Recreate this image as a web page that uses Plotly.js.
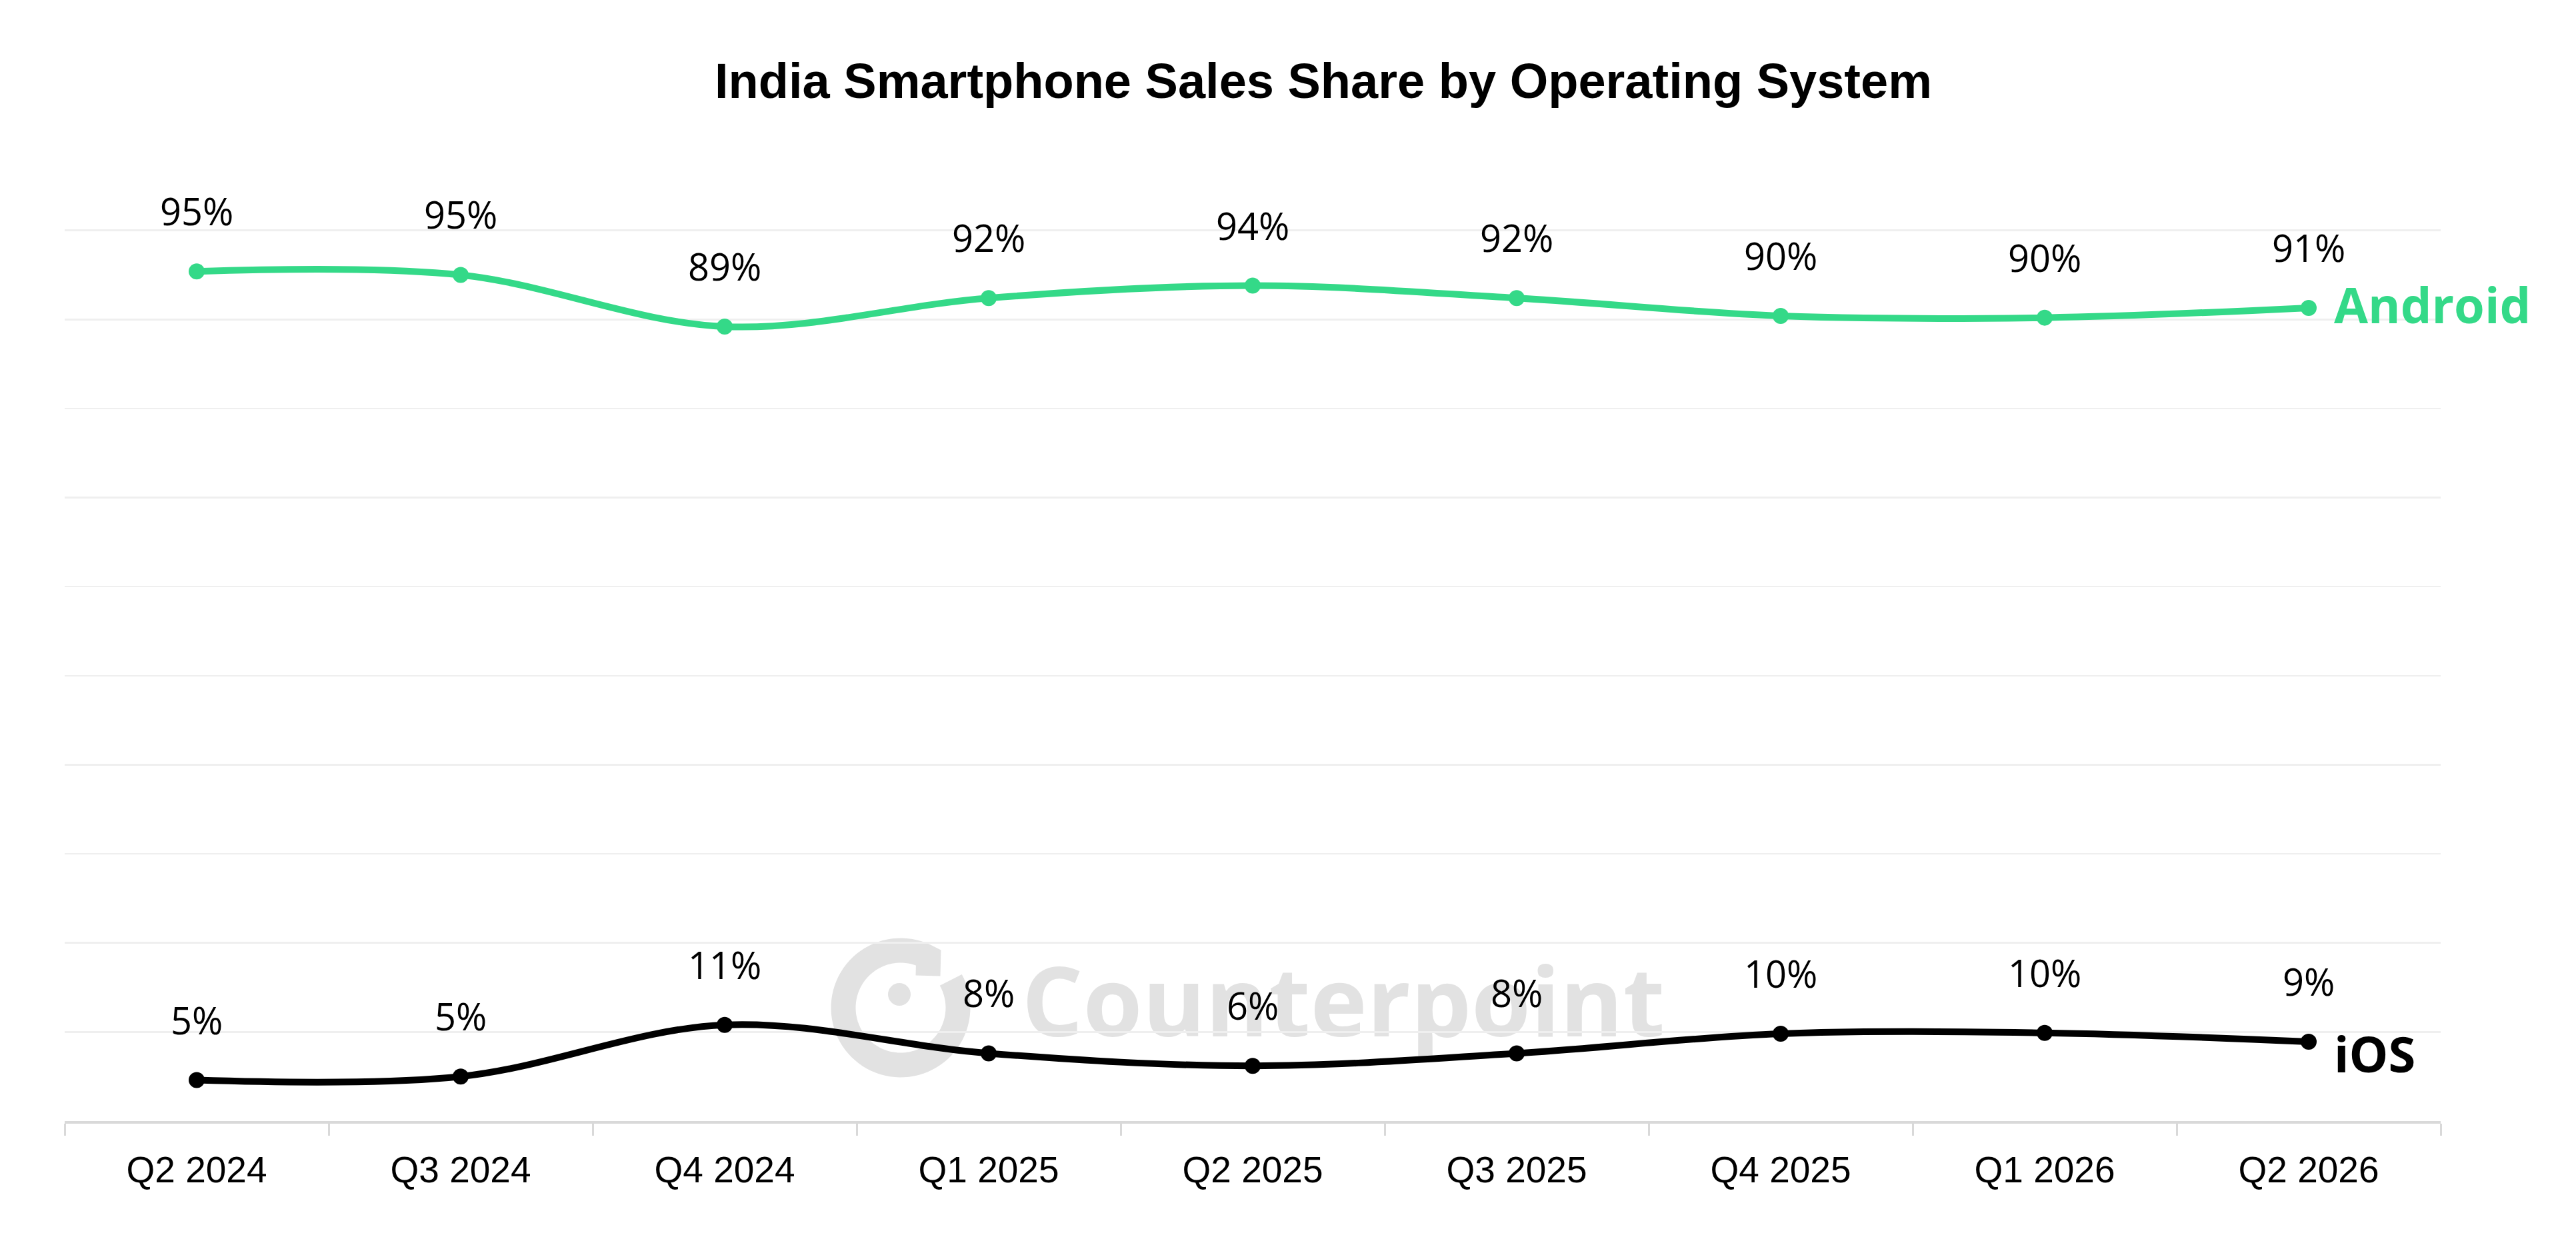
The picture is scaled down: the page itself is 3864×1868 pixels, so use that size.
<!DOCTYPE html>
<html>
<head>
<meta charset="utf-8">
<script src="https://cdn.plot.ly/plotly-3.0.1.min.js"></script>
<style>
  html, body { margin: 0; padding: 0; background: #fff; }
  #chart { width: 3864px; height: 1868px; }
</style>
</head>
<body>
<div id="chart"></div>
<script>
// quarters on the x axis
const quarters = ['Q2 2024', 'Q3 2024', 'Q4 2024', 'Q1 2025', 'Q2 2025',
                  'Q3 2025', 'Q4 2025', 'Q1 2026', 'Q2 2026'];

// share of sales, % (labels are rounded)
const androidShare = [95.4, 95.0, 89.2, 92.4, 93.8, 92.4, 90.4, 90.2, 91.3];
const iosShare     = [4.6, 5.0, 10.8, 7.6, 6.2, 7.6, 9.8, 9.9, 8.9];

const GREEN = '#34d988';
const W = 3864, H = 1868;
const M = { l: 97, r: 203, t: 343, b: 186 };
const plotW = W - M.l - M.r, plotH = H - M.t - M.b;
const Y_TOP = 100.2; // a hair above 100 so the top gridline is drawn

// page pixel -> paper coords (used only for the watermark)
const px = x => (x - M.l) / plotW;
const py = y => (H - M.b - y) / plotH;

function seriesTrace(name, values, color) {
    return {
        x: quarters,
        y: values,
        name: name,
        type: 'scatter',
        mode: 'lines+markers',
        line: { color: color, width: 10, shape: 'spline', smoothing: 1 },
        marker: { color: color, size: 24 },
        hoverinfo: 'skip',
        cliponaxis: false
    };
}

const labelFont = { family: '"Open Sans", "Noto Sans", sans-serif', size: 56, color: '#000' };

function valueLabels(values) {
    return quarters.map((q, i) => ({
        x: q, y: values[i],
        xref: 'x', yref: 'y',
        text: Math.round(values[i]) + '%',
        showarrow: false,
        xanchor: 'center', yanchor: 'bottom',
        yshift: 51,
        font: labelFont
    }));
}

const last = quarters.length - 1;
const endLabels = [
    { x: quarters[last], y: androidShare[last], text: 'Android', color: GREEN, yshift: 5 },
    { x: quarters[last], y: iosShare[last], text: 'iOS', color: '#000', yshift: -17 }
].map(a => ({
    x: a.x, y: a.y, xref: 'x', yref: 'y',
    text: a.text, showarrow: false,
    xanchor: 'left', yanchor: 'middle',
    xshift: 36, yshift: a.yshift,
    font: { family: '"Open Sans", "Noto Sans", sans-serif', size: 74, color: a.color, weight: 700 }
}));

// Counterpoint watermark: ring + dot + word, drawn under the data
const WM = '#e2e2e2';
const ring = { cx: 1351, cy: 1512, r: 86 };
let ringPath = '';
for (let a = 29; a >= -300; a -= 4) {
    const t = a * Math.PI / 180;
    const x = ring.cx + ring.r * Math.cos(t);
    const y = ring.cy - ring.r * Math.sin(t);
    ringPath += (ringPath ? ' L' : 'M') + px(x).toFixed(5) + ',' + py(y).toFixed(5);
}
ringPath += ' L' + px(1392).toFixed(5) + ',' + py(1464).toFixed(5);

const shapes = [
    {
        type: 'path', xref: 'paper', yref: 'paper', layer: 'below',
        path: ringPath,
        line: { color: WM, width: 37 },
        fillcolor: 'rgba(0,0,0,0)'
    },
    {
        type: 'circle', xref: 'paper', yref: 'paper', layer: 'below',
        x0: px(1332), x1: px(1366), y0: py(1509), y1: py(1475),
        line: { width: 0 }, fillcolor: WM
    },
    {
        type: 'rect', xref: 'paper', yref: 'paper', layer: 'below',
        x0: px(1520), x1: px(2510), y0: py(1600), y1: py(1418),
        line: { width: 0 }, fillcolor: 'rgba(0,0,0,0)',
        label: {
            text: 'Counterpoint',
            textposition: 'middle center',
            font: { family: '"Open Sans", "Noto Sans", sans-serif', size: 144, color: WM, weight: 700 }
        }
    }
];

const traces = [
    seriesTrace('Android', androidShare, GREEN),
    seriesTrace('iOS', iosShare, '#000')
];

const layout = {
    width: W,
    height: H,
    autosize: false,
    margin: M,
    paper_bgcolor: '#fff',
    plot_bgcolor: '#fff',
    showlegend: false,
    font: { family: '"Liberation Sans", Arial, sans-serif', color: '#000' },
    title: {
        text: 'India Smartphone Sales Share by Operating System',
        font: { family: '"Liberation Sans", Arial, sans-serif', size: 74, color: '#000', weight: 700 },
        xref: 'container', yref: 'container',
        x: 1985 / W, xanchor: 'center',
        y: 1 - 121 / H, yanchor: 'middle'
    },
    xaxis: {
        type: 'category',
        range: [-0.5, quarters.length - 0.5],
        showgrid: false,
        zeroline: false,
        showline: true,
        linecolor: '#d9d9d9',
        linewidth: 4,
        ticks: 'outside',
        tickson: 'boundaries',
        ticklen: 18,
        tickwidth: 3,
        tickcolor: '#d9d9d9',
        ticklabelstandoff: 22,
        tickfont: { family: '"Liberation Sans", Arial, sans-serif', size: 55, color: '#000' },
        fixedrange: true
    },
    yaxis: {
        range: [0, Y_TOP],
        tick0: 0,
        dtick: 10,
        showgrid: true,
        gridcolor: '#efefef',
        gridwidth: 2.5,
        zeroline: false,
        showline: false,
        showticklabels: false,
        ticks: '',
        fixedrange: true
    },
    shapes: shapes,
    annotations: valueLabels(androidShare).concat(valueLabels(iosShare), endLabels)
};

Plotly.newPlot('chart', traces, layout, { displayModeBar: false, staticPlot: true });
</script>
</body>
</html>
